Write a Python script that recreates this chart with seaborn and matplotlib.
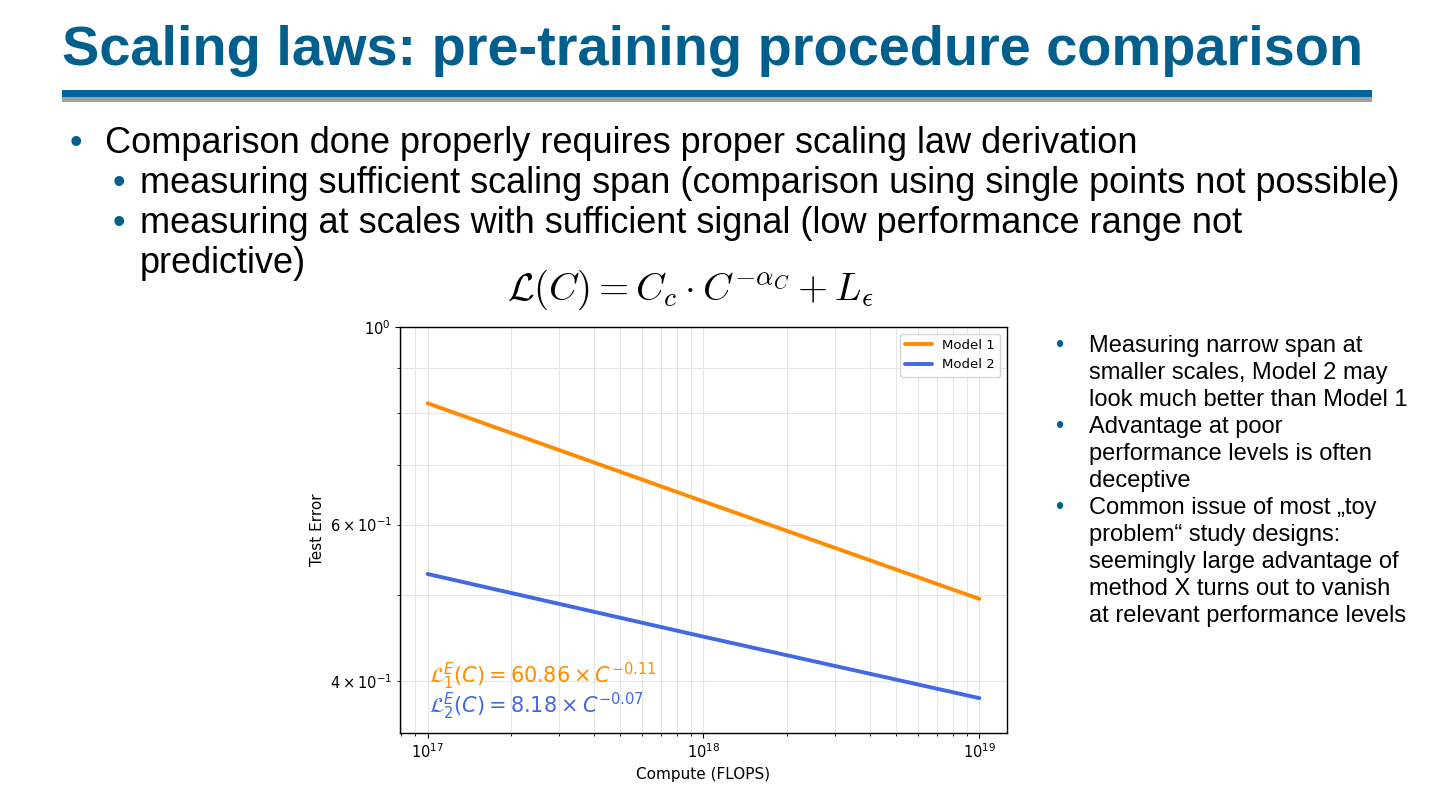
import numpy as np
import pandas as pd
import seaborn as sns
import matplotlib.pyplot as plt

# Datos (recta en log-log, tres puntos por modelo)
compute = [1e17, 1e18, 1e19]
model1_err = [0.821, 0.637, 0.495]
model2_err = [0.528, 0.449, 0.383]
model_names = ['Model 1', 'Model 2']
model_colors = ['#FF8C00', '#4169E1']
fit_labels = [r'$\mathcal{L}_1^E(C) = 60.86 \times C^{-0.11}$',
              r'$\mathcal{L}_2^E(C) = 8.18 \times C^{-0.07}$']

title = 'Scaling laws: pre-training procedure comparison'
left_bullets = [
    (0, 'Comparison done properly requires proper scaling law derivation'),
    (1, 'measuring sufficient scaling span (comparison using single points not possible)'),
    (1, 'measuring at scales with sufficient signal (low performance range not'),
    (2, 'predictive)'),
]
right_bullets = [
    (True, 'Measuring narrow span at'),
    (False, 'smaller scales, Model 2 may'),
    (False, 'look much better than Model 1'),
    (True, 'Advantage at poor'),
    (False, 'performance levels is often'),
    (False, 'deceptive'),
    (True, 'Common issue of most \u201etoy'),
    (False, 'problem\u201c study designs:'),
    (False, 'seemingly large advantage of'),
    (False, 'method X turns out to vanish'),
    (False, 'at relevant performance levels'),
]
formula = r'$\mathcal{L}(C) = C_c \cdot C^{-\alpha_C} + L_\epsilon$'

df = pd.DataFrame({
    'compute': compute * 2,
    'error': model1_err + model2_err,
    'model': [model_names[0]] * 3 + [model_names[1]] * 3,
})

sns.set_style('ticks', {'xtick.major.size': 3.5, 'ytick.major.size': 3.5,
                        'xtick.minor.size': 2, 'ytick.minor.size': 2,
                        'text.color': 'black', 'axes.labelcolor': 'black',
                        'xtick.color': 'black', 'ytick.color': 'black'})
plt.rcParams['font.family'] = ['DejaVu Sans']

W, H = 1440, 811
fig = plt.figure(figsize=(W / 100, H / 100), dpi=100)


def px(x, y):
    return x / W, 1 - y / H


# Cabecera de la diapositiva
slide_font = ['Liberation Sans', 'DejaVu Sans']
blue = '#005F8C'
fig.text(*px(62, 65), title, family=slide_font, fontsize=40.3, fontweight='bold',
         color=blue, va='baseline', ha='left')
fig.patches.append(plt.Rectangle(px(62, 97), 1310 / W, 7 / H, transform=fig.transFigure,
                                 color='#00659C', lw=0))
fig.patches.append(plt.Rectangle(px(62, 102), 1310 / W, 5 / H, transform=fig.transFigure,
                                 color='#A0A0A0', lw=0))

body = 26
baselines = [153, 193, 233, 273]
for (lvl, txt), yb in zip(left_bullets, baselines):
    if lvl == 0:
        fig.text(*px(70, yb), '\u2022', family=slide_font, fontsize=body, color=blue, va='baseline')
        fig.text(*px(105, yb), txt, family=slide_font, fontsize=body, color='black', va='baseline')
    elif lvl == 1:
        fig.text(*px(113, yb), '\u2022', family=slide_font, fontsize=body, color=blue, va='baseline')
        fig.text(*px(140, yb), txt, family=slide_font, fontsize=body, color='black', va='baseline')
    else:
        fig.text(*px(140, yb), txt, family=slide_font, fontsize=body, color='black', va='baseline')

fig.text(*px(690, 290), formula, fontsize=28, math_fontfamily='cm', color='black',
         ha='center', va='center')

for i, (has_bullet, txt) in enumerate(right_bullets):
    yb = 352 + i * 27
    if has_bullet:
        fig.text(*px(1055, yb), '\u2022', family=slide_font, fontsize=17, color=blue, va='baseline')
    fig.text(*px(1089, yb), txt, family=slide_font, fontsize=17, color='black', va='baseline')

# Grafico
ax = fig.add_axes([400 / W, 1 - 733 / H, 607 / W, 406 / H])
sns.lineplot(data=df, x='compute', y='error', hue='model', palette=model_colors,
             linewidth=2.8, ax=ax)
ax.set_xscale('log')
ax.set_yscale('log')
ax.set_ylim(0.35, 1.0)
ax.grid(True, which='both', color='#E6E6E6', linewidth=0.8)
for s in ax.spines.values():
    s.set_color('black')
    s.set_linewidth(1.0)
ax.tick_params(which='both', labelsize=10.5, colors='black')
ax.set_xlabel('Compute (FLOPS)', fontsize=11, color='black')
ax.set_ylabel('Test Error', fontsize=11, color='black')
leg = ax.legend(title=None, loc='upper right', fontsize=9.5)
for t in leg.get_texts():
    t.set_color('black')

ax.text(0.048, 0.122, fit_labels[0], transform=ax.transAxes, color=model_colors[0],
        fontsize=15, va='baseline')
ax.text(0.048, 0.05, fit_labels[1], transform=ax.transAxes, color=model_colors[1],
        fontsize=15, va='baseline')

fig.savefig('out.png', dpi=100)
